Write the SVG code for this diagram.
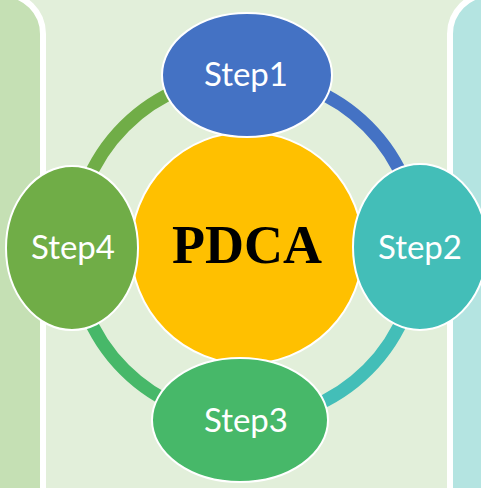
<svg xmlns="http://www.w3.org/2000/svg" width="481" height="488" viewBox="0 0 481 488">
  <style>
    .panel { stroke: #FFFFFF; stroke-width: 6; }
    .ring { fill: none; stroke-width: 13; stroke-linecap: butt; }
    .node { stroke: #FFFFFF; stroke-width: 2; }
    .label { font-family: Lato, "Open Sans", "Liberation Sans", sans-serif; font-size: 33px; fill: #FFFFFF; text-anchor: middle; }
    .title { font-family: "Liberation Serif", "DejaVu Serif", serif; font-size: 54px; font-weight: bold; fill: #000000; text-anchor: middle; }
  </style>

  <!-- background and side panels -->
  <rect x="0" y="0" width="481" height="488" fill="#E2EFDA"/>
  <rect class="panel" x="-80" y="-6" width="123" height="560" rx="40" ry="40" fill="#C5E0B4"/>
  <rect class="panel" x="450" y="-6" width="123" height="560" rx="40" ry="40" fill="#B4E4E1"/>

  <!-- ring connectors between the steps -->
  <g id="connectors">
    <path class="ring" stroke="#4472C4" d="M246,76 A172,172 0 0 1 418,248"/>
    <path class="ring" stroke="#43BEB8" d="M418,248 A172,172 0 0 1 246,420"/>
    <path class="ring" stroke="#47B869" d="M246,420 A172,172 0 0 1 74,248"/>
    <path class="ring" stroke="#70AD47" d="M74,248 A172,172 0 0 1 246,76"/>
  </g>

  <!-- centre -->
  <g id="center">
    <circle class="node" cx="247" cy="248" r="116" fill="#FFC000"/>
    <text class="title" x="247" y="263">PDCA</text>
  </g>

  <g id="step1">
    <ellipse class="node" cx="247" cy="75" rx="85" ry="62" fill="#4472C4"/>
    <text class="label" x="246" y="86">Step1</text>
  </g>

  <g id="step2">
    <ellipse class="node" cx="420" cy="247" rx="67" ry="83" fill="#43BEB8"/>
    <text class="label" x="420" y="259">Step2</text>
  </g>

  <g id="step3">
    <ellipse class="node" cx="240" cy="420" rx="88" ry="62" fill="#47B869"/>
    <text class="label" x="246" y="432">Step3</text>
  </g>

  <g id="step4">
    <ellipse class="node" cx="72" cy="248" rx="66" ry="82" fill="#70AD47"/>
    <text class="label" x="73" y="259">Step4</text>
  </g>
</svg>
